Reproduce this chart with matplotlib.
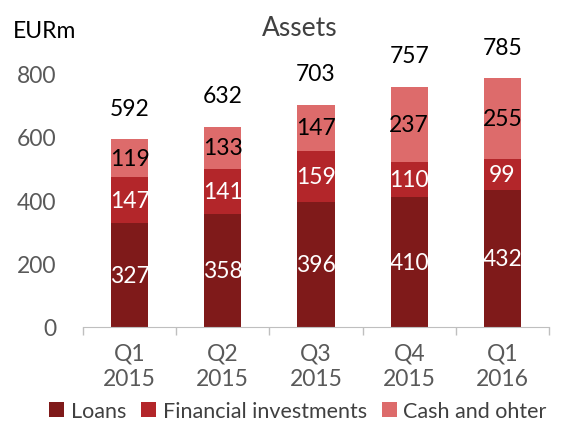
import matplotlib
matplotlib.use("Agg")
import matplotlib.pyplot as plt
import numpy as np

categories = ["Q1\n2015", "Q2\n2015", "Q3\n2015", "Q4\n2015", "Q1\n2016"]
loans = [327, 358, 396, 410, 432]
financial = [147, 141, 159, 110, 99]
cash = [119, 133, 147, 237, 255]
totals = [592, 632, 703, 757, 785]
series_names = ["Loans", "Financial investments", "Cash and ohter"]
colors = ["#7F1A1A", "#B3262A", "#DD6B6B"]
label_colors = ["white", "white", "black"]

plt.rcParams['font.family'] = ['Lato', 'DejaVu Sans']

fig = plt.figure(figsize=(5.61, 4.27), dpi=100)
W, H = 561, 427
ax = fig.add_axes([83 / W, 1 - 328 / H, (549 - 83) / W, (328 - 43) / H])

x = np.arange(len(categories))
bottom = np.zeros(len(categories))
for vals, col, lc, name in zip([loans, financial, cash], colors, label_colors, series_names):
    ax.bar(x, vals, width=0.4, bottom=bottom, color=col, label=name, zorder=2)
    for xi, v, b in zip(x, vals, bottom):
        ax.text(xi, b + v / 2, str(v), ha="center", va="center", color=lc, fontsize=16.5)
    bottom = bottom + np.array(vals)

for xi, t in zip(x, totals):
    ax.annotate(str(t), (xi, t), xytext=(0, 15), textcoords="offset points",
                ha="center", va="bottom", fontsize=16.5, color="black")

ax.set_xlim(-0.5, len(categories) - 0.5)
ax.set_ylim(0, 900)
ax.set_yticks([0, 200, 400, 600, 800])
ax.tick_params(axis="y", length=0, pad=19, labelsize=16.5, labelcolor="#595959")
ax.set_xticks(x)
ax.set_xticklabels(categories, linespacing=1.25)
ax.tick_params(axis="x", length=0, pad=11, labelsize=16.5, labelcolor="#595959")
ax.set_xticks(np.arange(-0.5, len(categories)), minor=True)
ax.tick_params(axis="x", which="minor", length=6, color="#BFBFBF", width=1)
for s in ["top", "right", "left"]:
    ax.spines[s].set_visible(False)
ax.spines["bottom"].set_color("#BFBFBF")

fig.text(300 / W, 1 - 28 / H, "Assets", ha="center", va="center", fontsize=19, color="#404040")
fig.text(13 / W, 1 - 31 / H, "EURm", ha="left", va="center", fontsize=16.5, color="black")

fig.legend(loc="center", bbox_to_anchor=(298 / W, 1 - 412 / H), ncol=3, frameon=False,
           fontsize=15.5, handlelength=0.7, handleheight=0.7, handletextpad=0.3,
           columnspacing=0.7, labelcolor="#404040")

fig.savefig("out.png", dpi=100)
